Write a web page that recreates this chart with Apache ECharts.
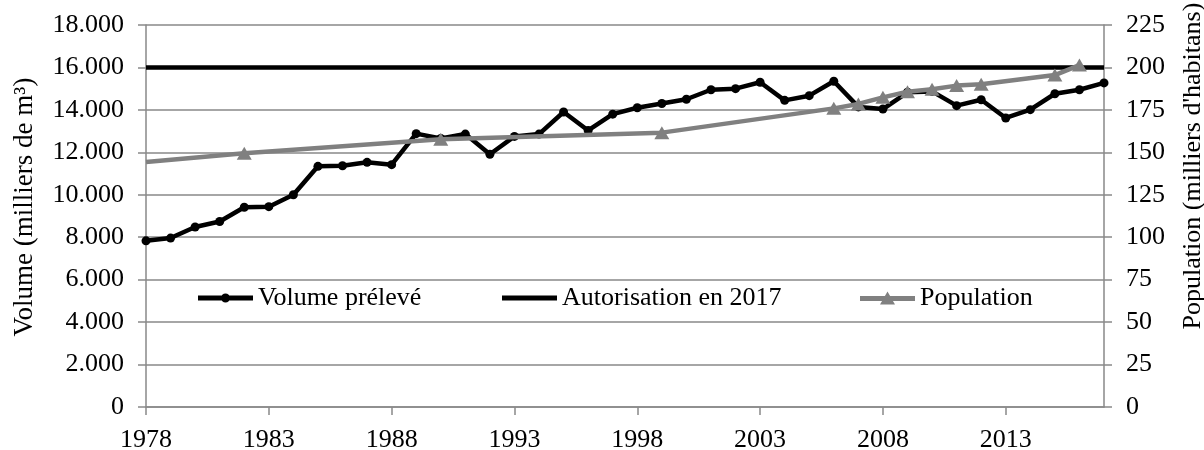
<!DOCTYPE html>
<html>
<head>
<meta charset="utf-8">
<script src="https://cdn.jsdelivr.net/npm/echarts@6/dist/echarts.min.js"></script>
<style>
  html, body { margin: 0; padding: 0; background: #fff; }
  #chart { width: 1204px; height: 450px; }
</style>
</head>
<body>
<div id="chart"></div>
<script>
// années (axe des x)
const years = ['1978', '1979', '1980', '1981', '1982', '1983', '1984', '1985', '1986', '1987',
  '1988', '1989', '1990', '1991', '1992', '1993', '1994', '1995', '1996', '1997',
  '1998', '1999', '2000', '2001', '2002', '2003', '2004', '2005', '2006', '2007',
  '2008', '2009', '2010', '2011', '2012', '2013', '2014', '2015', '2016', '2017'];

// volume prélevé (milliers de m3)
const volume = [7830, 7960, 8480, 8740, 9410, 9440, 10000, 11340, 11370, 11530,
  11420, 12880, 12650, 12860, 11910, 12750, 12860, 13900, 13030, 13800,
  14100, 14300, 14500, 14950, 15000, 15300, 14450, 14670, 15350, 14140,
  14040, 14830, 14870, 14200, 14480, 13620, 14010, 14760, 14950, 15270];

// autorisation en 2017 (milliers de m3)
const autorisation = [16000, 16000, 16000, 16000, 16000, 16000, 16000, 16000, 16000, 16000,
  16000, 16000, 16000, 16000, 16000, 16000, 16000, 16000, 16000, 16000,
  16000, 16000, 16000, 16000, 16000, 16000, 16000, 16000, 16000, 16000,
  16000, 16000, 16000, 16000, 16000, 16000, 16000, 16000, 16000, 16000];

// population (milliers d'habitants), recensements
const population = [144.3, null, null, null, 149.5, null, null, null, null, null,
  null, null, 157.7, null, null, null, null, null, null, null,
  null, 161.6, null, null, null, null, null, null, 175.9, 178.5,
  182.4, 185.7, 187.1, 189.3, 190.1, null, null, 195.5, 201.4, null];
const popNoMarker = ['1978']; // point de départ sans marqueur

const leftTicks = { min: 0, max: 18000, interval: 2000 };
const rightTicks = { min: 0, max: 225, interval: 25 };

const FONT = '"Liberation Serif", "Times New Roman", serif';
const GRAY = '#898989';

const chart = echarts.init(document.getElementById('chart'));

const formatThousands = (v) => String(v).replace(/\B(?=(\d{3})+(?!\d))/g, '.');

const axisCommon = {
  axisLine: { show: true, lineStyle: { color: GRAY, width: 1.5 } },
  axisTick: { show: true, inside: false, length: 8, lineStyle: { color: GRAY, width: 1.5 } },
  axisLabel: { color: '#000', fontFamily: FONT, fontSize: 26 },
};

// icônes de légende façon Excel : trait épais + marqueur au centre
const ICON_VOLUME = 'path://M0,2 L55,2 L55,7 L0,7 Z M23,4.5 A4.5,4.5 0 1 1 32,4.5 A4.5,4.5 0 1 1 23,4.5 Z';
const ICON_AUTORISATION = 'path://M0,0 L55,0 L55,5 L0,5 Z';
const ICON_POPULATION = 'path://M0,4.5 L55,4.5 L55,9.5 L0,9.5 Z M27.5,0 L35,13 L20,13 Z';

const legendCommon = {
  itemWidth: 55,
  itemGap: 0,
  textStyle: { color: '#000', fontFamily: FONT, fontSize: 26 },
  itemStyle: { borderWidth: 0 },
  selectedMode: false,
};

const option = {
  animation: false,
  backgroundColor: '#fff',
  grid: { left: 146, right: 100, top: 25, bottom: 43, containLabel: false, outerBoundsMode: 'none' },
  legend: [
    { ...legendCommon, top: 280, left: 193, itemHeight: 9, data: [{ name: 'Volume prélevé', icon: ICON_VOLUME }] },
    { ...legendCommon, top: 280, left: 497, itemHeight: 5, data: [{ name: 'Autorisation en 2017', icon: ICON_AUTORISATION }] },
    { ...legendCommon, top: 280, left: 855, itemHeight: 13, data: [{ name: 'Population', icon: ICON_POPULATION }] },
  ],
  xAxis: {
    type: 'category',
    data: years,
    boundaryGap: false,
    ...axisCommon,
    axisTick: { ...axisCommon.axisTick, interval: 4 },
    axisLabel: { ...axisCommon.axisLabel, interval: 4, margin: 20 },
    splitLine: { show: false },
  },
  yAxis: [
    {
      type: 'value',
      ...leftTicks,
      name: 'Volume (milliers de m³)',
      nameLocation: 'middle',
      nameGap: 108,
      // titre légèrement au-dessus du centre, comme dans Excel
      nameTextStyle: { color: '#000', fontFamily: FONT, fontSize: 27, padding: [0, 0, 0, 18] },
      ...axisCommon,
      axisLabel: { ...axisCommon.axisLabel, margin: 22, formatter: formatThousands },
      splitLine: { show: true, lineStyle: { color: GRAY, width: 1.5 } },
    },
    {
      type: 'value',
      ...rightTicks,
      position: 'right',
      name: "Population (milliers d'habitans)",
      nameLocation: 'middle',
      nameGap: 76,
      nameTextStyle: { color: '#000', fontFamily: FONT, fontSize: 26, padding: [0, 0, 0, 100] },
      ...axisCommon,
      axisLabel: { ...axisCommon.axisLabel, margin: 22 },
      splitLine: { show: false },
    },
  ],
  series: [
    {
      name: 'Volume prélevé',
      type: 'line',
      data: volume,
      symbol: 'circle',
      symbolSize: 9,
      lineStyle: { color: '#000', width: 4.5 },
      itemStyle: { color: '#000' },
      z: 2,
    },
    {
      name: 'Autorisation en 2017',
      type: 'line',
      data: autorisation,
      symbol: 'none',
      lineStyle: { color: '#000', width: 4.5 },
      itemStyle: { color: '#000' },
      z: 3,
    },
    {
      name: 'Population',
      type: 'line',
      yAxisIndex: 1,
      connectNulls: true,
      data: population.map((v, i) => (popNoMarker.includes(years[i]) ? { value: v, symbol: 'none' } : v)),
      symbol: 'triangle',
      symbolSize: [15, 13],
      lineStyle: { color: '#808080', width: 4.5 },
      itemStyle: { color: '#808080' },
      z: 4,
    },
  ],
};

chart.setOption(option);
</script>
</body>
</html>
